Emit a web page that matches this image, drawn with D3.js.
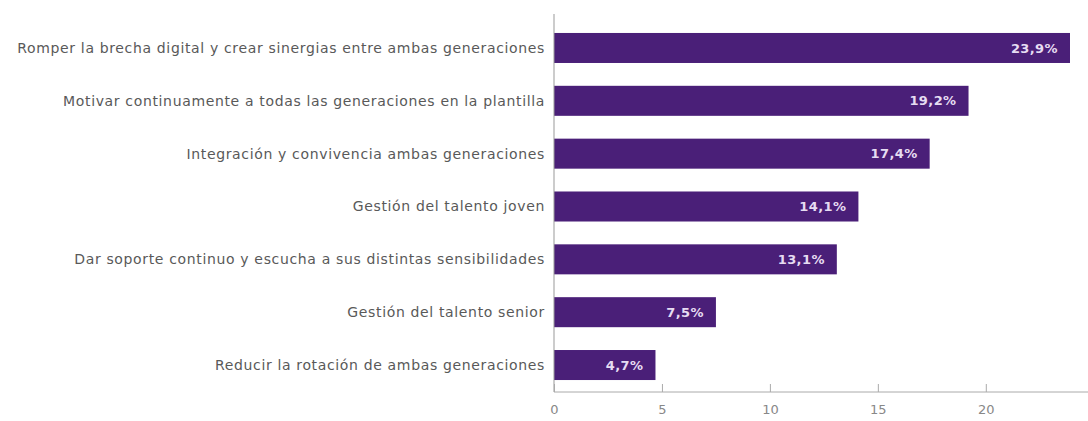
<!DOCTYPE html>
<html>
<head>
<meta charset="utf-8">
<script src="https://cdn.jsdelivr.net/npm/d3@7"></script>
<style>
  html, body { margin: 0; padding: 0; background: #fff; }
  svg { display: block; }
</style>
</head>
<body>
<svg id="chart" width="1088" height="421"></svg>
<script>
// Motivos / prioridades, en porcentaje
const categories = [
  "Romper la brecha digital y crear sinergias entre ambas generaciones",
  "Motivar continuamente a todas las generaciones en la plantilla",
  "Integración y convivencia ambas generaciones",
  "Gestión del talento joven",
  "Dar soporte continuo y escucha a sus distintas sensibilidades",
  "Gestión del talento senior",
  "Reducir la rotación de ambas generaciones"
];
const values = [23.9, 19.2, 17.4, 14.1, 13.1, 7.5, 4.7];
const valueLabels = ["23,9%", "19,2%", "17,4%", "14,1%", "13,1%", "7,5%", "4,7%"];
const xTicks = [0, 5, 10, 15, 20];

const svg = d3.select("#chart");
const axisX = 554;
const plotRight = 1070;
const axisBottom = 392;

const x = d3.scaleLinear()
  .domain([0, 23.9])
  .range([axisX, plotRight]);

const y = d3.scaleBand()
  .domain(categories)
  .range([22.4, 390.6])
  .paddingInner(0.432)
  .paddingOuter(0.2);

const fontFamily = "'DejaVu Sans', sans-serif";

// Barras
svg.append("g")
  .selectAll("rect")
  .data(categories)
  .join("rect")
  .attr("x", x(0))
  .attr("y", d => y(d))
  .attr("width", (d, i) => x(values[i]) - x(0))
  .attr("height", y.bandwidth())
  .attr("fill", "#4a1f78");

// Etiquetas de valor dentro de cada barra
svg.append("g")
  .selectAll("text")
  .data(categories)
  .join("text")
  .attr("x", (d, i) => x(values[i]) - 12)
  .attr("y", d => y(d) + y.bandwidth() / 2)
  .attr("dy", "0.35em")
  .attr("text-anchor", "end")
  .attr("font-family", fontFamily)
  .attr("font-size", 13)
  .attr("font-weight", "bold")
  .attr("letter-spacing", "0.4px")
  .attr("fill", "#e6dcf2")
  .text((d, i) => valueLabels[i]);

// Etiquetas de categoría
svg.append("g")
  .selectAll("text")
  .data(categories)
  .join("text")
  .attr("x", axisX - 9)
  .attr("y", d => y(d) + y.bandwidth() / 2)
  .attr("dy", "0.35em")
  .attr("text-anchor", "end")
  .attr("font-family", fontFamily)
  .attr("font-size", 14)
  .attr("letter-spacing", "0.65px")
  .attr("fill", "#595959")
  .text(d => d);

// Eje vertical
svg.append("line")
  .attr("x1", axisX).attr("x2", axisX)
  .attr("y1", 14).attr("y2", axisBottom)
  .attr("stroke", "#999")
  .attr("stroke-width", 1);

// Eje horizontal
const xAxis = d3.axisBottom(x)
  .tickValues(xTicks)
  .tickSize(-8)
  .tickPadding(13)
  .tickFormat(d3.format("d"));

const gx = svg.append("g")
  .attr("transform", `translate(0,${axisBottom})`)
  .call(xAxis);

gx.select(".domain")
  .attr("d", `M${axisX},0H1088`)
  .attr("stroke", "#aaa");
gx.selectAll(".tick line").attr("stroke", "#aaa");
gx.selectAll(".tick text")
  .attr("font-family", fontFamily)
  .attr("font-size", 13)
  .attr("fill", "#888");
</script>
</body>
</html>
